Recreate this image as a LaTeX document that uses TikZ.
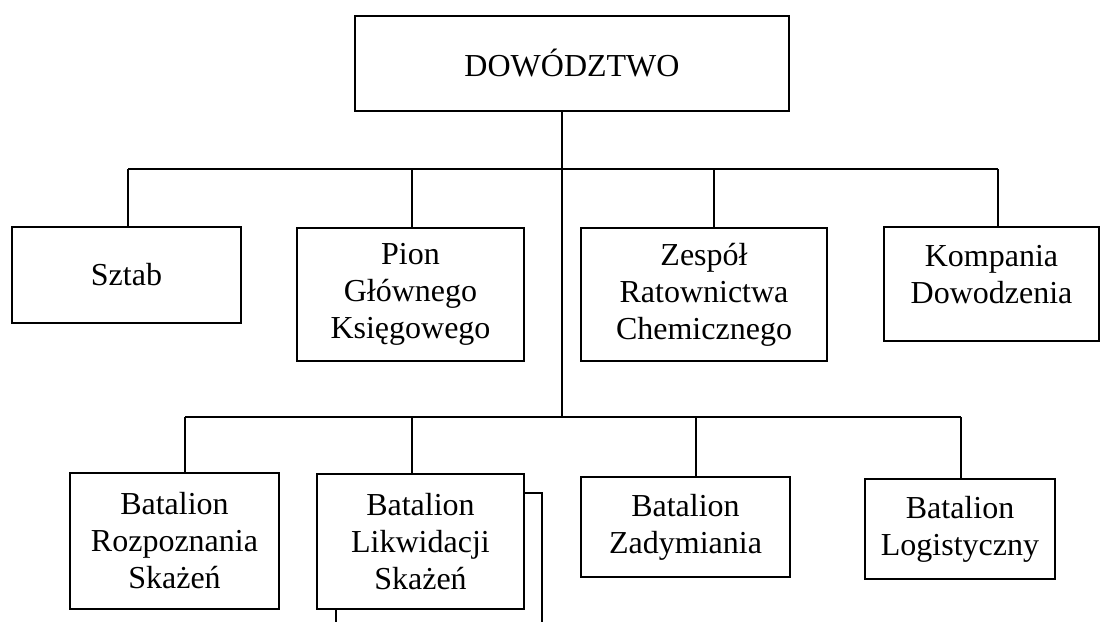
\documentclass[tikz,border=0pt]{standalone}
\usepackage{fontspec}
\setmainfont{Liberation Serif}
\begin{document}
\begin{tikzpicture}[x=0.5pt,y=-0.5pt,
  unit/.style={draw=black, line width=1.1pt, inner sep=0pt, align=center,
    font=\fontsize{16}{18.5}\selectfont},
  lbl/.style={inner sep=0pt, align=center, font=\fontsize{16}{18.5}\selectfont},
  conn/.style={draw=black, line width=0.9pt}]
\useasboundingbox[fill=white] (0,0) rectangle (1101,622);
% boxes
\node[unit, minimum width=217pt, minimum height=47.5pt] (top) at (572,63.5) {DOWÓDZTWO};
\node[unit, minimum width=114.5pt, minimum height=48pt] (sztab) at (126.5,275) {Sztab};
\node[unit, minimum width=113.5pt, minimum height=66.5pt] (pion) at (410.5,294.5) {Pion\\Głównego\\Księgowego};
\node[unit, minimum width=123pt, minimum height=66.5pt] (zesp) at (704,294.5) {Zespół\\Ratownictwa\\Chemicznego};
\node[unit, minimum width=107.5pt, minimum height=57pt] (komp) at (991.5,284) {};
\node[lbl] (kompT) at (991.5,274.5) {Kompania\\Dowodzenia};
\node[unit, minimum width=104.5pt, minimum height=68pt] (rozp) at (174.5,541) {Batalion\\Rozpoznania\\Skażeń};
\node[unit, minimum width=103.5pt, minimum height=67.5pt] (likw) at (420.5,541.5) {Batalion\\Likwidacji\\Skażeń};
\node[unit, minimum width=104.5pt, minimum height=50pt] (zady) at (685.5,527) {Batalion\\Zadymiania};
\node[unit, minimum width=95pt, minimum height=50pt] (logi) at (960,529) {Batalion\\Logistyczny};
% junctions
\coordinate (j1) at (562,169);
\coordinate (j2) at (562,417);
\coordinate (a1) at (128,169);
\coordinate (a2) at (412,169);
\coordinate (a3) at (714,169);
\coordinate (a4) at (998,169);
\coordinate (c1) at (185,417);
\coordinate (c2) at (412,417);
\coordinate (c3) at (696,417);
\coordinate (c4) at (961,417);
\coordinate (e1) at (542,622);
\coordinate (e2) at (336,622);
% connectors
\draw[conn] (top.south -| j1) -- (j2);
\draw[conn] (a1) -- (a4);
\draw[conn] (a1) -- (a1 |- sztab.north);
\draw[conn] (a2) -- (a2 |- pion.north);
\draw[conn] (a3) -- (a3 |- zesp.north);
\draw[conn] (a4) -- (a4 |- komp.north);
\draw[conn] (c1) -- (c4);
\draw[conn] (c1) -- (c1 |- rozp.north);
\draw[conn] (c2) -- (c2 |- likw.north);
\draw[conn] (c3) -- (c3 |- zady.north);
\draw[conn] (c4) -- (c4 |- logi.north);
\draw[conn] ([yshift=24.25pt]likw.east) -| (e1);
\draw[conn] (e2 |- likw.south) -- (e2);
\end{tikzpicture}
\end{document}
